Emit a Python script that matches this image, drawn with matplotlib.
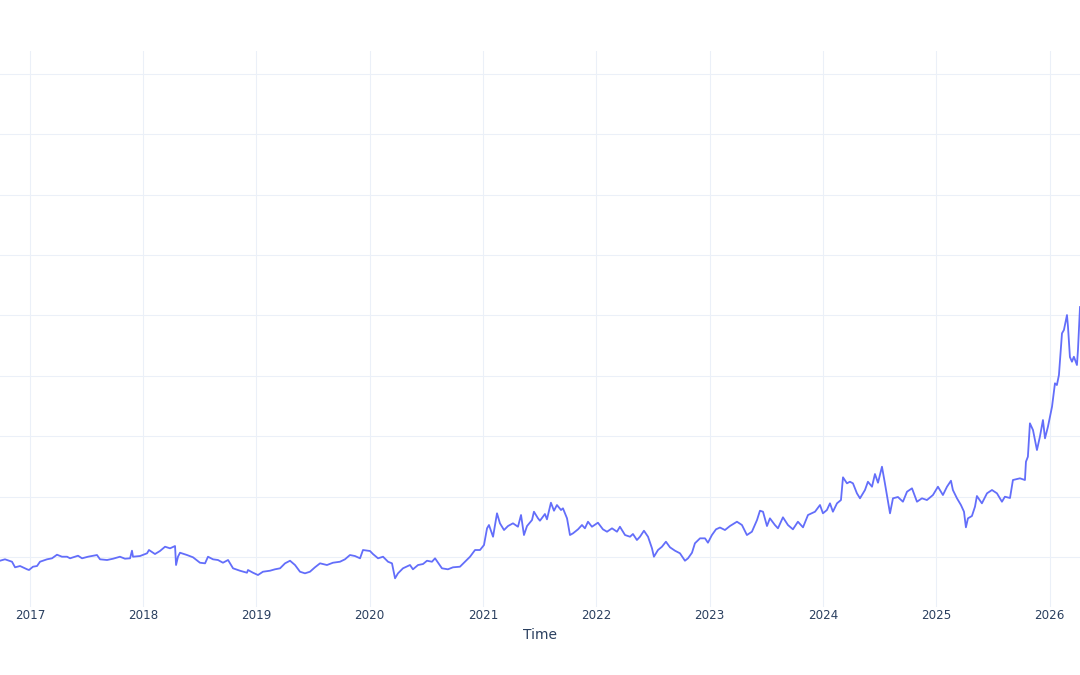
import numpy as np
import pandas as pd
import matplotlib.pyplot as plt
import matplotlib.dates as mdates

# price series, time as decimal year
years = [2016.735, 2016.779, 2016.841, 2016.868, 2016.912, 2016.974, 2016.991,
         2017.026, 2017.062, 2017.088, 2017.150, 2017.194, 2017.238, 2017.282,
         2017.327, 2017.353, 2017.424, 2017.459, 2017.512, 2017.591, 2017.618,
         2017.680, 2017.733, 2017.794, 2017.838, 2017.883, 2017.900, 2017.909,
         2017.971, 2018.033, 2018.050, 2018.103, 2018.147, 2018.192, 2018.236,
         2018.280, 2018.289, 2018.306, 2018.324, 2018.386, 2018.439, 2018.500,
         2018.545, 2018.571, 2018.615, 2018.659, 2018.703, 2018.748, 2018.792,
         2018.853, 2018.915, 2018.924, 2018.968, 2019.012, 2019.056, 2019.118,
         2019.162, 2019.207, 2019.251, 2019.295, 2019.339, 2019.383, 2019.427,
         2019.471, 2019.515, 2019.560, 2019.621, 2019.674, 2019.736, 2019.780,
         2019.824, 2019.868, 2019.913, 2019.939, 2020.001, 2020.027, 2020.072,
         2020.116, 2020.160, 2020.195, 2020.222, 2020.248, 2020.292, 2020.354,
         2020.380, 2020.425, 2020.469, 2020.504, 2020.548, 2020.575, 2020.636,
         2020.689, 2020.733, 2020.795, 2020.839, 2020.884, 2020.928, 2020.972,
         2021.007, 2021.034, 2021.051, 2021.087, 2021.122, 2021.148, 2021.184,
         2021.219, 2021.263, 2021.307, 2021.334, 2021.360, 2021.387, 2021.431,
         2021.448, 2021.484, 2021.501, 2021.545, 2021.563, 2021.598, 2021.625,
         2021.651, 2021.687, 2021.704, 2021.740, 2021.766, 2021.793, 2021.837,
         2021.872, 2021.898, 2021.925, 2021.960, 2022.013, 2022.057, 2022.093,
         2022.137, 2022.181, 2022.207, 2022.252, 2022.296, 2022.322, 2022.357,
         2022.384, 2022.419, 2022.455, 2022.490, 2022.507, 2022.543, 2022.578,
         2022.613, 2022.649, 2022.693, 2022.737, 2022.781, 2022.808, 2022.843,
         2022.869, 2022.914, 2022.958, 2022.984, 2023.019, 2023.055, 2023.090,
         2023.134, 2023.178, 2023.240, 2023.284, 2023.328, 2023.372, 2023.417,
         2023.443, 2023.470, 2023.505, 2023.531, 2023.575, 2023.602, 2023.646,
         2023.690, 2023.734, 2023.778, 2023.823, 2023.867, 2023.929, 2023.973,
         2023.999, 2024.034, 2024.061, 2024.087, 2024.123, 2024.158, 2024.176,
         2024.211, 2024.237, 2024.264, 2024.299, 2024.326, 2024.370, 2024.396,
         2024.432, 2024.458, 2024.485, 2024.520, 2024.546, 2024.573, 2024.591,
         2024.617, 2024.661, 2024.705, 2024.741, 2024.785, 2024.829, 2024.873,
         2024.917, 2024.970, 2025.014, 2025.058, 2025.094, 2025.129, 2025.146,
         2025.182, 2025.217, 2025.244, 2025.261, 2025.279, 2025.314, 2025.341,
         2025.358, 2025.402, 2025.447, 2025.491, 2025.535, 2025.579, 2025.605,
         2025.650, 2025.676, 2025.738, 2025.782, 2025.791, 2025.808, 2025.826,
         2025.853, 2025.888, 2025.914, 2025.941, 2025.959, 2025.985, 2026.021,
         2026.047, 2026.064, 2026.082, 2026.109, 2026.126, 2026.153, 2026.162,
         2026.179, 2026.197, 2026.214, 2026.241, 2026.250, 2026.268]

price = [18.77, 19.24, 18.44, 16.59, 17.02, 15.93, 15.70,
         16.79, 17.02, 18.44, 19.24, 19.57, 20.76, 20.10,
         20.10, 19.57, 20.43, 19.57, 20.10, 20.66, 19.24,
         19.01, 19.44, 20.10, 19.44, 19.57, 22.09, 20.10,
         20.33, 21.23, 22.32, 20.99, 21.99, 23.41, 22.88,
         23.64, 17.35, 20.10, 21.42, 20.66, 19.90, 18.11,
         17.91, 20.10, 19.24, 19.01, 18.11, 19.01, 16.26,
         15.46, 14.80, 15.70, 14.80, 14.04, 15.13, 15.46,
         15.93, 16.26, 17.91, 18.77, 17.35, 15.13, 14.60,
         15.13, 16.59, 17.91, 17.35, 18.11, 18.44, 19.24,
         20.66, 20.33, 19.57, 22.32, 21.99, 20.99, 19.57,
         20.10, 18.44, 17.91, 12.95, 14.60, 16.26, 17.35,
         15.93, 17.35, 17.68, 18.77, 18.44, 19.57, 16.26,
         15.93, 16.59, 16.79, 18.44, 20.10, 22.32, 22.32,
         23.97, 29.50, 30.60, 26.72, 34.47, 31.16, 28.94,
         30.26, 31.16, 30.03, 33.91, 27.28, 30.26, 32.25,
         35.00, 32.81, 32.02, 34.24, 32.48, 37.98, 35.33,
         37.22, 35.56, 36.13, 32.81, 27.28, 27.85, 29.17,
         30.60, 29.50, 31.69, 30.03, 31.36, 29.17, 28.38,
         29.50, 28.38, 30.03, 27.28, 26.72, 27.62, 25.63,
         26.72, 28.71, 26.72, 22.88, 20.10, 22.32, 23.41,
         25.07, 23.21, 22.09, 21.23, 18.77, 19.57, 21.42,
         24.54, 26.19, 26.19, 24.74, 27.28, 29.17, 29.77,
         28.94, 30.26, 31.69, 30.60, 27.28, 28.38, 32.25,
         35.33, 35.00, 30.26, 32.81, 30.60, 29.50, 33.15,
         30.60, 29.17, 31.69, 29.83, 33.91, 35.00, 37.22,
         34.47, 35.56, 37.78, 35.00, 37.78, 38.87, 46.39,
         44.40, 44.93, 44.40, 41.09, 39.44, 42.19, 44.93,
         43.28, 47.48, 44.60, 49.90, 44.40, 38.31, 34.47,
         39.44, 39.87, 38.31, 41.62, 42.75, 38.31, 39.44,
         38.87, 40.53, 43.28, 40.53, 43.28, 45.26, 42.19,
         39.44, 37.22, 35.00, 29.83, 32.81, 33.58, 36.66,
         40.20, 37.78, 41.09, 42.19, 41.09, 38.31, 39.97,
         39.54, 45.50, 46.06, 45.50, 51.56, 53.21, 64.27,
         62.05, 55.43, 59.83, 65.36, 59.30, 63.15, 69.77,
         77.52, 76.95, 80.26, 94.07, 95.17, 100.13, 96.26,
         86.23, 84.67, 86.32, 83.58, 88.54, 102.78]

tick_years = list(range(2017, 2027))
y_grid = [20, 40, 60, 80, 100, 120, 140, 160, 180]


def to_date(y):
    return pd.Timestamp('2017-01-01') + pd.to_timedelta((y - 2017) * 365.25, unit='D')


dates = [to_date(y) for y in years]

fig = plt.figure(figsize=(10.8, 6.75), dpi=100)
ax = fig.add_axes([0.0, 0.1007, 1.0, 0.8237])

ax.plot(dates, price, color='#636EFA', lw=1.3)

ax.set_xlim(to_date(2016.735), to_date(2026.268))
ax.set_ylim(3.44, 187.55)

ax.set_xticks([pd.Timestamp(f'{y}-01-01') for y in tick_years])
ax.xaxis.set_major_formatter(mdates.DateFormatter('%Y'))
ax.set_yticks(y_grid)
ax.set_yticklabels([])

ax.grid(True, color='#EBF0F8', lw=0.75)
ax.set_axisbelow(True)
for s in ax.spines.values():
    s.set_visible(False)
ax.tick_params(axis='both', length=0)
ax.tick_params(axis='x', pad=1.5, labelsize=8.6, labelcolor='#2a3f5f')

ax.set_xlabel('Time', fontsize=10, color='#2a3f5f', labelpad=4)

plt.savefig('out.png', dpi=100, facecolor='white')
